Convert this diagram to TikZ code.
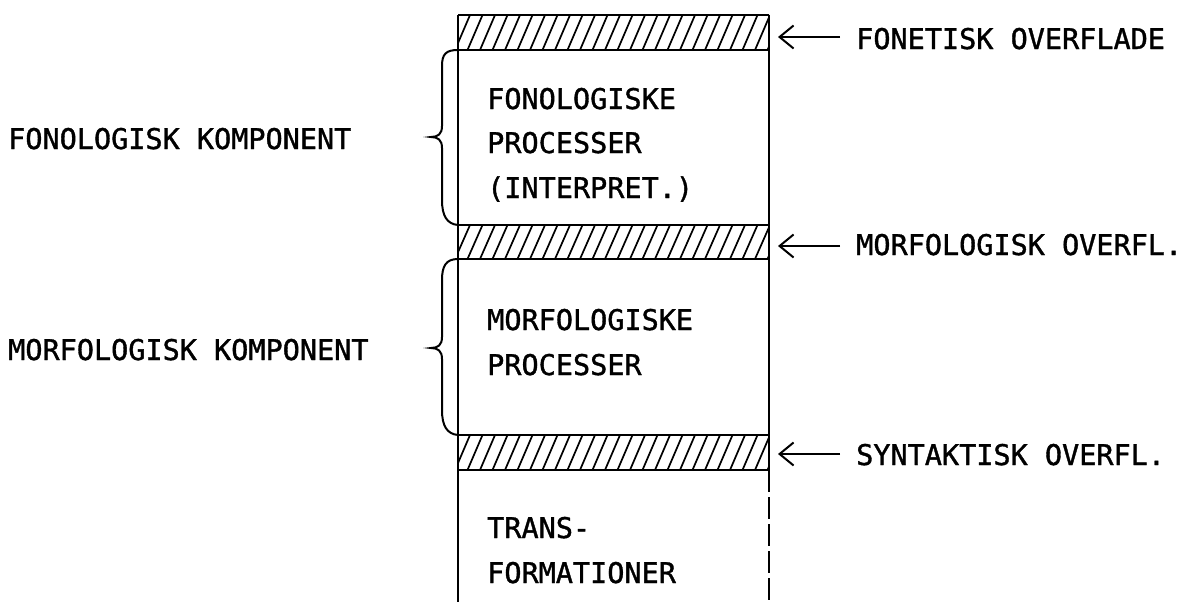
\documentclass[tikz,border=0pt]{standalone}
\usepackage{fontspec}
\newfontfamily\tw{DejaVu Sans Mono}[FakeBold=1.2]
\usetikzlibrary{arrows.meta}
\begin{document}
\begin{tikzpicture}[x=1pt,y=-1pt,
  lbl/.style={font=\tw\fontsize{28.5}{30}\selectfont, inner sep=0pt, anchor=base west},
  edge/.style={line width=2.3pt},
  hatch/.style={line width=1.7pt},
  pointer/.style={line width=2pt, -{Straight Barb[length=14pt,width=23pt,line width=2pt]}},
  bracepath/.style={line width=2pt}]
\useasboundingbox (0,0) rectangle (1186,602);

% hatched bands
\foreach \yt/\yb in {15/50,225/259,435/470} {
  \begin{scope}
    \clip (458,\yt) rectangle (769,\yb);
    \foreach \x in {430,442.5,...,780} \draw[hatch] (\x,\yb) -- (\x+15,\yt);
  \end{scope}
  \draw[edge] (458,\yt) -- (769,\yt);
  \draw[edge] (458,\yb) -- (769,\yb);
}

% column edges
\draw[edge] (458,15) -- (458,602);
\draw[edge] (769,15) -- (769,470);
\draw[edge, dash pattern=on 22pt off 5pt] (769,470) -- (769,602);

% texts inside the column
\node[lbl] (t1) at (487,109) {FONOLOGISKE};
\node[lbl] (t2) at (487,153) {PROCESSER};
\node[lbl] (t3) at (487,198) {(INTERPRET.)};
\node[lbl] (t4) at (487,330) {MORFOLOGISKE};
\node[lbl] (t5) at (487,375) {PROCESSER};
\node[lbl] (t6) at (487,538) {TRANS-};
\node[lbl] (t7) at (487,583) {FORMATIONER};

% left labels
\node[lbl] (k1) at (8,149) {FONOLOGISK KOMPONENT};
\node[lbl] (k2) at (8,360) {MORFOLOGISK KOMPONENT};

% right labels
\node[lbl] (o1) at (856,49) {FONETISK OVERFLADE};
\node[lbl] (o2) at (856,255) {MORFOLOGISK OVERFL.};
\node[lbl] (o3) at (856,465) {SYNTAKTISK OVERFL.};

% arrows
\coordinate (s1) at (840,37);  \coordinate (e1) at (778,37);
\coordinate (s2) at (840,246); \coordinate (e2) at (778,246);
\coordinate (s3) at (840,454); \coordinate (e3) at (778,454);
\draw[pointer] (s1) -- (e1);
\draw[pointer] (s2) -- (e2);
\draw[pointer] (s3) -- (e3);

% braces
\draw[bracepath] (458,50) .. controls (446,50) and (442,54) .. (442,66)
  -- (442,126) .. controls (442,134) and (438,137) .. (431,137)
  .. controls (438,137) and (442,140) .. (442,148)
  -- (442,200) .. controls (442,216) and (447,224) .. (458,225);
\draw[bracepath] (458,259) .. controls (446,259) and (442,266) .. (442,280)
  -- (442,337) .. controls (442,345) and (438,348) .. (431,348)
  .. controls (438,348) and (442,351) .. (442,359)
  -- (442,410) .. controls (442,426) and (447,434) .. (458,435);
\end{tikzpicture}
\end{document}
